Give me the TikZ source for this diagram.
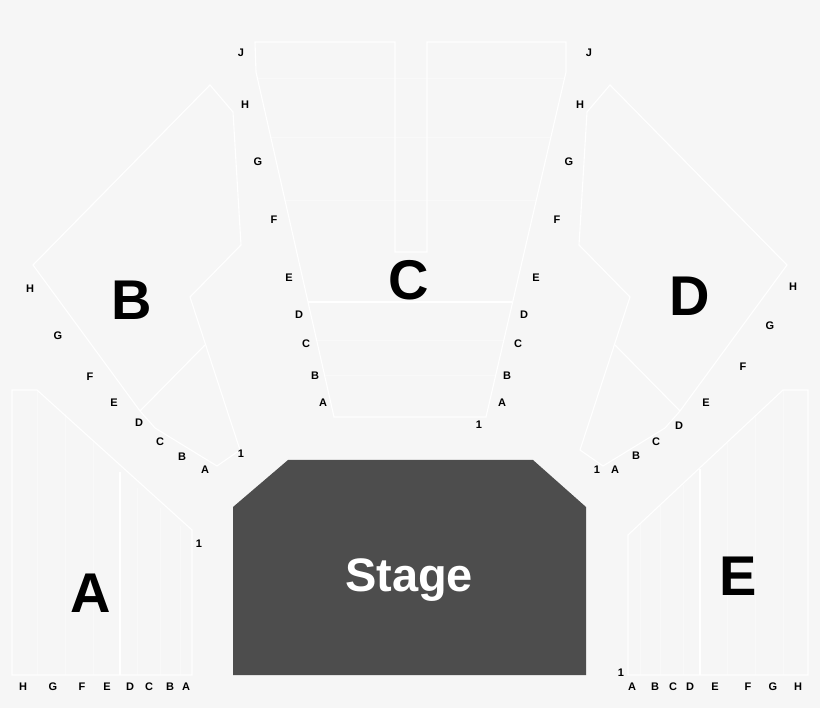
\documentclass[tikz,border=0pt]{standalone}
\usepackage{fontspec}
\setmainfont{Liberation Sans}
\begin{document}
\begin{tikzpicture}[x=1pt,y=-1pt,
  outl/.style={draw=white,line width=1.1pt,line join=miter},
  faint/.style={draw=white,line width=0.6pt,opacity=0.35},
  row/.style={font=\fontsize{11}{11}\selectfont\bfseries,text=black,inner sep=0},
  big/.style={font=\fontsize{56}{56}\selectfont\bfseries,text=black,inner sep=0}]
\fill[fill={rgb,255:red,246;green,246;blue,246}] (0,0) rectangle (820,708);
\useasboundingbox (0,0) rectangle (820,708);
% Section C
\draw[outl] (255,42) -- (256,72) -- (334,417) -- (486,417) -- (566,72) -- (566,42) -- (427,42) -- (427,252) -- (395,252) -- (395,42) -- cycle;
\draw[outl] (308,302) -- (512,302);
\foreach \y/\a/\b in {78/257/564, 137/270/551, 200/284/537, 340/316/504, 375/324/496}
  \draw[faint] (\a,\y) -- (\b,\y);
% Section B
\draw[outl] (210,85) -- (233,112) -- (241,245) -- (190,297) -- (240,450) -- (217,466) -- (155,428) -- (140,411) -- (33,265) -- cycle;
\draw[outl] (140,411) -- (205,345);
% Section D
\draw[outl] (610,85) -- (587,112) -- (579,245) -- (630,297) -- (580,450) -- (603,466) -- (665,428) -- (680,411) -- (787,265) -- cycle;
\draw[outl] (680,411) -- (615,345);
% Section A
\draw[outl] (12,390) -- (37,390) -- (192,530) -- (192,675) -- (12,675) -- cycle;
\draw[outl] (120,472) -- (120,675);
\foreach \x/\t in {37/390, 65/414, 93/440, 137/488, 160/508, 180/526}
  \draw[faint] (\x,\t) -- (\x,675);
% Section E
\draw[outl] (808,390) -- (783,390) -- (628,535) -- (628,675) -- (808,675) -- cycle;
\draw[outl] (700,469) -- (700,675);
\foreach \x/\t in {783/390, 755/416, 727/443, 683/485, 660/506, 640/524}
  \draw[faint] (\x,\t) -- (\x,675);
% Stage
\fill[fill={rgb,255:red,77;green,77;blue,77}] (233,507) -- (288,460) -- (533,460) -- (586,507) -- (586,675) -- (233,675) -- cycle;
\node[font=\fontsize{47}{47}\selectfont\bfseries,text=white,inner sep=0] (stage) at (409,580) {Stage};
% big labels
\node[big] (la) at (91,593) {A};
\node[big] (lb) at (132,300) {B};
\node[big] (lc) at (409,280) {C};
\node[big] (ld) at (690,296) {D};
\node[big] (le) at (738,576) {E};
% row labels
\foreach \t/\x/\y [count=\i] in {J/241/53,H/245/105,G/258/162,F/274/220,E/289/278,D/299/315,C/306/344,B/315/376,A/323/403,1/479/425,
  J/589/53,H/580/105,G/569/162,F/557/220,E/536/278,D/524/315,C/518/344,B/507/376,A/502/403,
  H/30/289,G/58/336,F/90/377,E/114/403,D/139/423,C/160/442,B/182/457,A/205/470,1/241/454,
  H/793/287,G/770/326,F/743/367,E/706/403,D/679/426,C/656/442,B/636/456,A/615/470,1/597/470,
  H/23/687,G/53/687,F/82/687,E/107/687,D/130/687,C/149/687,B/170/687,A/186/687,1/199/544,
  A/632/687,B/655/687,C/673/687,D/690/687,E/715/687,F/748/687,G/773/687,H/798/687,1/621/673}
  \node[row] (r\i) at (\x,\y) {\t};
\end{tikzpicture}
\end{document}
